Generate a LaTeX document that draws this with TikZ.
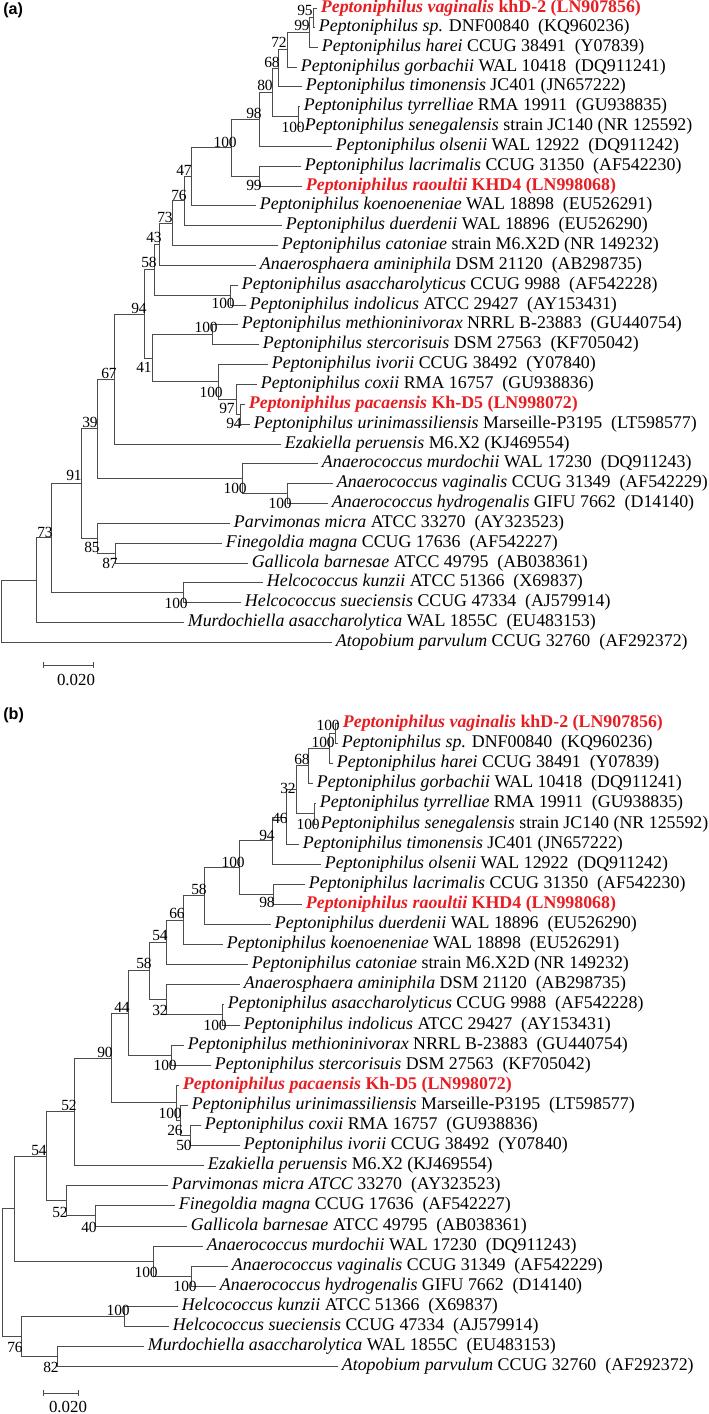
\documentclass[tikz,border=0pt]{standalone}
\usepackage{fontspec}
\usepackage{xcolor}
\setmainfont{Liberation Serif}
\newfontfamily\panelfont{Liberation Sans}
\definecolor{isolate}{RGB}{230,30,35}
\newcommand{\tx}[2]{\textit{#1} #2}
\newcommand{\txr}[2]{\textcolor{isolate}{\textbf{\textit{#1} #2}}}

\begin{document}
\begin{tikzpicture}[x=0.025cm, y=-0.025cm,
    branch/.style={draw=black!70, line width=0.55pt},
    taxon/.style={anchor=west, inner xsep=2.6pt, inner ysep=0pt, text height=8.8pt, text depth=2.7pt, font=\fontsize{12.7}{14}\selectfont},
    boot/.style={anchor=east, inner sep=0pt, font=\fontsize{11}{12}\selectfont},
    scalelab/.style={inner sep=0pt, font=\fontsize{12}{13}\selectfont},
    panel/.style={anchor=west, inner sep=0pt, font=\panelfont\bfseries\fontsize{11.5}{13}\selectfont}]
    \useasboundingbox (0,0) rectangle (709,1414);

    % ---------------- (a) ----------------
    \node[panel] (A-tag) at (3,10) {(a)};
    % leaves
    \node[taxon] (A-vag) at (317,8.5) {\txr{Peptoniphilus vaginalis}{khD-2 (LN907856)}};
    \node[taxon] (A-sp)  at (315,27)  {\tx{Peptoniphilus sp.}{DNF00840~~(KQ960236)}};
    \node[taxon] (A-har) at (318,47)  {\tx{Peptoniphilus harei}{CCUG 38491~~(Y07839)}};
    \node[taxon] (A-gor) at (297,67)  {\tx{Peptoniphilus gorbachii}{WAL 10418~~(DQ911241)}};
    \node[taxon] (A-tim) at (302,86)  {\tx{Peptoniphilus timonensis}{JC401 (JN657222)}};
    \node[taxon] (A-tyr) at (300,106) {\tx{Peptoniphilus tyrrelliae}{RMA 19911~~(GU938835)}};
    \node[taxon] (A-sen) at (301,126) {\tx{Peptoniphilus senegalensis}{strain JC140 (NR 125592)}};
    \node[taxon] (A-ols) at (332,146) {\tx{Peptoniphilus olsenii}{WAL 12922~~(DQ911242)}};
    \node[taxon] (A-lac) at (301,166) {\tx{Peptoniphilus lacrimalis}{CCUG 31350~~(AF542230)}};
    \node[taxon] (A-rao) at (302,186) {\txr{Peptoniphilus raoultii}{KHD4 (LN998068)}};
    \node[taxon] (A-koe) at (256,205) {\tx{Peptoniphilus koenoeneniae}{WAL 18898~~(EU526291)}};
    \node[taxon] (A-due) at (282,225) {\tx{Peptoniphilus duerdenii}{WAL 18896~~(EU526290)}};
    \node[taxon] (A-cat) at (278,245) {\tx{Peptoniphilus catoniae}{strain M6.X2D (NR 149232)}};
    \node[taxon] (A-ami) at (256,265) {\tx{Anaerosphaera aminiphila}{DSM 21120~~(AB298735)}};
    \node[taxon] (A-asa) at (238,285) {\tx{Peptoniphilus asaccharolyticus}{CCUG 9988~~(AF542228)}};
    \node[taxon] (A-ind) at (246,305) {\tx{Peptoniphilus indolicus}{ATCC 29427~~(AY153431)}};
    \node[taxon] (A-met) at (238,324) {\tx{Peptoniphilus methioninivorax}{NRRL B-23883~~(GU440754)}};
    \node[taxon] (A-ste) at (259,344) {\tx{Peptoniphilus stercorisuis}{DSM 27563~~(KF705042)}};
    \node[taxon] (A-ivo) at (268,364) {\tx{Peptoniphilus ivorii}{CCUG 38492~~(Y07840)}};
    \node[taxon] (A-cox) at (257,384) {\tx{Peptoniphilus coxii}{RMA 16757~~(GU938836)}};
    \node[taxon] (A-pac) at (245,404) {\txr{Peptoniphilus pacaensis}{Kh-D5 (LN998072)}};
    \node[taxon] (A-uri) at (250,424) {\tx{Peptoniphilus urinimassiliensis}{Marseille-P3195~~(LT598577)}};
    \node[taxon] (A-eza) at (281,444) {\tx{Ezakiella peruensis}{M6.X2 (KJ469554)}};
    \node[taxon] (A-mur) at (318,463) {\tx{Anaerococcus murdochii}{WAL 17230~~(DQ911243)}};
    \node[taxon] (A-avg) at (333,483) {\tx{Anaerococcus vaginalis}{CCUG 31349~~(AF542229)}};
    \node[taxon] (A-hyd) at (328,503) {\tx{Anaerococcus hydrogenalis}{GIFU 7662~~(D14140)}};
    \node[taxon] (A-par) at (230,523) {\tx{Parvimonas micra}{ATCC 33270~~(AY323523)}};
    \node[taxon] (A-fin) at (222,543) {\tx{Finegoldia magna}{CCUG 17636~~(AF542227)}};
    \node[taxon] (A-gal) at (248,563) {\tx{Gallicola barnesae}{ATCC 49795~~(AB038361)}};
    \node[taxon] (A-kun) at (263,582) {\tx{Helcococcus kunzii}{ATCC 51366~~(X69837)}};
    \node[taxon] (A-sue) at (241,602) {\tx{Helcococcus sueciensis}{CCUG 47334~~(AJ579914)}};
    \node[taxon] (A-mch) at (184,622) {\tx{Murdochiella asaccharolytica}{WAL 1855C~~(EU483153)}};
    \node[taxon] (A-ato) at (332,642) {\tx{Atopobium parvulum}{CCUG 32760~~(AF292372)}};
    % junctions
    \coordinate (A-n95)   at (313,17.5);
    \coordinate (A-n99)   at (309,32);
    \coordinate (A-n72)   at (287,49.5);
    \coordinate (A-n68)   at (278,68);
    \coordinate (A-n100t) at (298,116);
    \coordinate (A-n80)   at (272,92);
    \coordinate (A-n98)   at (259,119);
    \coordinate (A-n99r)  at (259,176);
    \coordinate (A-n100)  at (231,147.5);
    \coordinate (A-n47)   at (191,176);
    \coordinate (A-n76)   at (184,200.5);
    \coordinate (A-n73)   at (172,223);
    \coordinate (A-n43)   at (159,244);
    \coordinate (A-n100i) at (230,295);
    \coordinate (A-n58)   at (154,269.5);
    \coordinate (A-n100m) at (212,334);
    \coordinate (A-n94p)  at (240,414);
    \coordinate (A-n97)   at (236,399);
    \coordinate (A-n100v) at (218,381.5);
    \coordinate (A-n41)   at (152,358);
    \coordinate (A-n94)   at (144,314);
    \coordinate (A-n67)   at (114,379);
    \coordinate (A-n100av) at (287,493);
    \coordinate (A-n100an) at (242,478);
    \coordinate (A-n39)   at (97,428.5);
    \coordinate (A-n87)   at (115,553);
    \coordinate (A-n85)   at (97,538);
    \coordinate (A-n91)   at (81,483);
    \coordinate (A-n100k) at (183,592);
    \coordinate (A-n73r)  at (51,537.5);
    \coordinate (A-nm)    at (36,580);
    \coordinate (A-root)  at (1,611);
    % branches
    \draw[branch] (A-n95) |- (A-vag) (A-n95) |- (A-sp);
    \draw[branch] (A-n99) |- (A-n95) (A-n99) |- (A-har);
    \draw[branch] (A-n72) |- (A-n99) (A-n72) |- (A-gor);
    \draw[branch] (A-n68) |- (A-n72) (A-n68) |- (A-tim);
    \draw[branch] (A-n100t) |- (A-tyr) (A-n100t) |- (A-sen);
    \draw[branch] (A-n80) |- (A-n68) (A-n80) |- (A-n100t);
    \draw[branch] (A-n98) |- (A-n80) (A-n98) |- (A-ols);
    \draw[branch] (A-n99r) |- (A-lac) (A-n99r) |- (A-rao);
    \draw[branch] (A-n100) |- (A-n98) (A-n100) |- (A-n99r);
    \draw[branch] (A-n47) |- (A-n100) (A-n47) |- (A-koe);
    \draw[branch] (A-n76) |- (A-n47) (A-n76) |- (A-due);
    \draw[branch] (A-n73) |- (A-n76) (A-n73) |- (A-cat);
    \draw[branch] (A-n43) |- (A-n73) (A-n43) |- (A-ami);
    \draw[branch] (A-n100i) |- (A-asa) (A-n100i) |- (A-ind);
    \draw[branch] (A-n58) |- (A-n43) (A-n58) |- (A-n100i);
    \draw[branch] (A-n100m) |- (A-met) (A-n100m) |- (A-ste);
    \draw[branch] (A-n94p) |- (A-pac) (A-n94p) |- (A-uri);
    \draw[branch] (A-n97) |- (A-cox) (A-n97) |- (A-n94p);
    \draw[branch] (A-n100v) |- (A-ivo) (A-n100v) |- (A-n97);
    \draw[branch] (A-n41) |- (A-n100m) (A-n41) |- (A-n100v);
    \draw[branch] (A-n94) |- (A-n58) (A-n94) |- (A-n41);
    \draw[branch] (A-n67) |- (A-n94) (A-n67) |- (A-eza);
    \draw[branch] (A-n100av) |- (A-avg) (A-n100av) |- (A-hyd);
    \draw[branch] (A-n100an) |- (A-mur) (A-n100an) |- (A-n100av);
    \draw[branch] (A-n39) |- (A-n67) (A-n39) |- (A-n100an);
    \draw[branch] (A-n87) |- (A-fin) (A-n87) |- (A-gal);
    \draw[branch] (A-n85) |- (A-par) (A-n85) |- (A-n87);
    \draw[branch] (A-n91) |- (A-n39) (A-n91) |- (A-n85);
    \draw[branch] (A-n100k) |- (A-kun) (A-n100k) |- (A-sue);
    \draw[branch] (A-n73r) |- (A-n91) (A-n73r) |- (A-n100k);
    \draw[branch] (A-nm) |- (A-n73r) (A-nm) |- (A-mch);
    \draw[branch] (A-root) |- (A-nm) (A-root) |- (A-ato);
    % bootstrap values
    \node[boot] (A-b95)   at (313,10.5) {95};
    \node[boot] (A-b99)   at (310,25)  {99};
    \node[boot] (A-b72)   at (287,42)  {72};
    \node[boot] (A-b68)   at (280,62)  {68};
    \node[boot] (A-b80)   at (273,85)  {80};
    \node[boot] (A-b100t) at (305,127) {100};
    \node[boot] (A-b98)   at (262,113) {98};
    \node[boot] (A-b100)  at (237,142) {100};
    \node[boot] (A-b99r)  at (262,185) {99};
    \node[boot] (A-b47)   at (192,170) {47};
    \node[boot] (A-b76)   at (187,195) {76};
    \node[boot] (A-b73)   at (173,217) {73};
    \node[boot] (A-b43)   at (162,237) {43};
    \node[boot] (A-b58)   at (157,262) {58};
    \node[boot] (A-b100i) at (235,303) {100};
    \node[boot] (A-b94)   at (147,308) {94};
    \node[boot] (A-b100m) at (218,327) {100};
    \node[boot] (A-b41)   at (152,367) {41};
    \node[boot] (A-b100v) at (223,392) {100};
    \node[boot] (A-b97)   at (235,408) {97};
    \node[boot] (A-b94p)  at (242,423) {94};
    \node[boot] (A-b67)   at (117,373) {67};
    \node[boot] (A-b39)   at (98,422)  {39};
    \node[boot] (A-b91)   at (82,475)  {91};
    \node[boot] (A-b100an) at (247,488) {100};
    \node[boot] (A-b100av) at (292,503) {100};
    \node[boot] (A-b85)   at (100,547) {85};
    \node[boot] (A-b87)   at (118,563) {87};
    \node[boot] (A-b73r)  at (53,532)  {73};
    \node[boot] (A-b100k) at (188,603) {100};
    % scale bar
    \coordinate (A-s0) at (43,665);
    \coordinate (A-s1) at (93,665);
    \draw[branch] (A-s0) -- (A-s1) (A-s0) ++(0,-3) -- ++(0,6) (A-s1) ++(0,-3) -- ++(0,6);
    \node[scalelab] (A-slab) at (76,680) {0.020};

    % ---------------- (b) ----------------
    \node[panel] (B-tag) at (3,715) {(b)};
    % leaves
    \node[taxon] (B-vag) at (339,723)  {\txr{Peptoniphilus vaginalis}{khD-2 (LN907856)}};
    \node[taxon] (B-sp)  at (338,743)  {\tx{Peptoniphilus sp.}{DNF00840~~(KQ960236)}};
    \node[taxon] (B-har) at (333,763)  {\tx{Peptoniphilus harei}{CCUG 38491~~(Y07839)}};
    \node[taxon] (B-gor) at (313,783)  {\tx{Peptoniphilus gorbachii}{WAL 10418~~(DQ911241)}};
    \node[taxon] (B-tyr) at (316,803)  {\tx{Peptoniphilus tyrrelliae}{RMA 19911~~(GU938835)}};
    \node[taxon] (B-sen) at (317,824)  {\tx{Peptoniphilus senegalensis}{strain JC140 (NR 125592)}};
    \node[taxon] (B-tim) at (299,844)  {\tx{Peptoniphilus timonensis}{JC401 (JN657222)}};
    \node[taxon] (B-ols) at (321,864)  {\tx{Peptoniphilus olsenii}{WAL 12922~~(DQ911242)}};
    \node[taxon] (B-lac) at (305,884)  {\tx{Peptoniphilus lacrimalis}{CCUG 31350~~(AF542230)}};
    \node[taxon] (B-rao) at (302,904)  {\txr{Peptoniphilus raoultii}{KHD4 (LN998068)}};
    \node[taxon] (B-due) at (271,924)  {\tx{Peptoniphilus duerdenii}{WAL 18896~~(EU526290)}};
    \node[taxon] (B-koe) at (223,944)  {\tx{Peptoniphilus koenoeneniae}{WAL 18898~~(EU526291)}};
    \node[taxon] (B-cat) at (248,964)  {\tx{Peptoniphilus catoniae}{strain M6.X2D (NR 149232)}};
    \node[taxon] (B-ami) at (240,984)  {\tx{Anaerosphaera aminiphila}{DSM 21120~~(AB298735)}};
    \node[taxon] (B-asa) at (224,1004) {\tx{Peptoniphilus asaccharolyticus}{CCUG 9988~~(AF542228)}};
    \node[taxon] (B-ind) at (240,1025) {\tx{Peptoniphilus indolicus}{ATCC 29427~~(AY153431)}};
    \node[taxon] (B-met) at (184,1045) {\tx{Peptoniphilus methioninivorax}{NRRL B-23883~~(GU440754)}};
    \node[taxon] (B-ste) at (211,1065) {\tx{Peptoniphilus stercorisuis}{DSM 27563~~(KF705042)}};
    \node[taxon] (B-pac) at (179,1085) {\txr{Peptoniphilus pacaensis}{Kh-D5 (LN998072)}};
    \node[taxon] (B-uri) at (188,1105) {\tx{Peptoniphilus urinimassiliensis}{Marseille-P3195~~(LT598577)}};
    \node[taxon] (B-cox) at (201,1125) {\tx{Peptoniphilus coxii}{RMA 16757~~(GU938836)}};
    \node[taxon] (B-ivo) at (240,1145) {\tx{Peptoniphilus ivorii}{CCUG 38492~~(Y07840)}};
    \node[taxon] (B-eza) at (204,1165) {\tx{Ezakiella peruensis}{M6.X2 (KJ469554)}};
    \node[taxon] (B-par) at (168,1185) {\tx{Parvimonas micra ATCC}{33270~~(AY323523)}};
    \node[taxon] (B-fin) at (175,1205) {\tx{Finegoldia magna}{CCUG 17636~~(AF542227)}};
    \node[taxon] (B-gal) at (187,1226) {\tx{Gallicola barnesae}{ATCC 49795~~(AB038361)}};
    \node[taxon] (B-mur) at (203,1246) {\tx{Anaerococcus murdochii}{WAL 17230~~(DQ911243)}};
    \node[taxon] (B-avg) at (228,1266) {\tx{Anaerococcus vaginalis}{CCUG 31349~~(AF542229)}};
    \node[taxon] (B-hyd) at (216,1286) {\tx{Anaerococcus hydrogenalis}{GIFU 7662~~(D14140)}};
    \node[taxon] (B-kun) at (178,1306) {\tx{Helcococcus kunzii}{ATCC 51366~~(X69837)}};
    \node[taxon] (B-sue) at (169,1326) {\tx{Helcococcus sueciensis}{CCUG 47334~~(AJ579914)}};
    \node[taxon] (B-mch) at (144,1346) {\tx{Murdochiella asaccharolytica}{WAL 1855C~~(EU483153)}};
    \node[taxon] (B-ato) at (338,1366) {\tx{Atopobium parvulum}{CCUG 32760~~(AF292372)}};
    % junctions
    \coordinate (B-n100v) at (335,733);
    \coordinate (B-n100h) at (329,748);
    \coordinate (B-n68)   at (308,765.5);
    \coordinate (B-n100t) at (314,813.5);
    \coordinate (B-n32)   at (296,789.5);
    \coordinate (B-n46)   at (286,817);
    \coordinate (B-n94)   at (272,840.5);
    \coordinate (B-n98)   at (273,894);
    \coordinate (B-n100)  at (239,867);
    \coordinate (B-n58)   at (204,895.5);
    \coordinate (B-n66)   at (183,920);
    \coordinate (B-n54)   at (166,942);
    \coordinate (B-n100i) at (222,1014.5);
    \coordinate (B-n32a)  at (166,999);
    \coordinate (B-n58a)  at (149,970.5);
    \coordinate (B-n100m) at (171,1055);
    \coordinate (B-n44)   at (128,1013);
    \coordinate (B-n50)   at (190,1135);
    \coordinate (B-n26)   at (180,1120);
    \coordinate (B-n100p) at (176,1102.5);
    \coordinate (B-n90)   at (111,1058);
    \coordinate (B-n52)   at (74,1111.5);
    \coordinate (B-n40)   at (95,1215.5);
    \coordinate (B-n52p)  at (66,1200);
    \coordinate (B-n54r)  at (46,1156);
    \coordinate (B-n100av) at (191,1276);
    \coordinate (B-n100an) at (153,1261);
    \coordinate (B-nx)    at (14,1208.5);
    \coordinate (B-n100k) at (124,1316);
    \coordinate (B-n82)   at (57,1356);
    \coordinate (B-n76)   at (21,1336);
    \coordinate (B-root)  at (2,1272);
    % branches
    \draw[branch] (B-n100v) |- (B-vag) (B-n100v) |- (B-sp);
    \draw[branch] (B-n100h) |- (B-n100v) (B-n100h) |- (B-har);
    \draw[branch] (B-n68) |- (B-n100h) (B-n68) |- (B-gor);
    \draw[branch] (B-n100t) |- (B-tyr) (B-n100t) |- (B-sen);
    \draw[branch] (B-n32) |- (B-n68) (B-n32) |- (B-n100t);
    \draw[branch] (B-n46) |- (B-n32) (B-n46) |- (B-tim);
    \draw[branch] (B-n94) |- (B-n46) (B-n94) |- (B-ols);
    \draw[branch] (B-n98) |- (B-lac) (B-n98) |- (B-rao);
    \draw[branch] (B-n100) |- (B-n94) (B-n100) |- (B-n98);
    \draw[branch] (B-n58) |- (B-n100) (B-n58) |- (B-due);
    \draw[branch] (B-n66) |- (B-n58) (B-n66) |- (B-koe);
    \draw[branch] (B-n54) |- (B-n66) (B-n54) |- (B-cat);
    \draw[branch] (B-n100i) |- (B-asa) (B-n100i) |- (B-ind);
    \draw[branch] (B-n32a) |- (B-ami) (B-n32a) |- (B-n100i);
    \draw[branch] (B-n58a) |- (B-n54) (B-n58a) |- (B-n32a);
    \draw[branch] (B-n100m) |- (B-met) (B-n100m) |- (B-ste);
    \draw[branch] (B-n44) |- (B-n58a) (B-n44) |- (B-n100m);
    \draw[branch] (B-n50) |- (B-cox) (B-n50) |- (B-ivo);
    \draw[branch] (B-n26) |- (B-uri) (B-n26) |- (B-n50);
    \draw[branch] (B-n100p) |- (B-pac) (B-n100p) |- (B-n26);
    \draw[branch] (B-n90) |- (B-n44) (B-n90) |- (B-n100p);
    \draw[branch] (B-n52) |- (B-n90) (B-n52) |- (B-eza);
    \draw[branch] (B-n40) |- (B-fin) (B-n40) |- (B-gal);
    \draw[branch] (B-n52p) |- (B-par) (B-n52p) |- (B-n40);
    \draw[branch] (B-n54r) |- (B-n52) (B-n54r) |- (B-n52p);
    \draw[branch] (B-n100av) |- (B-avg) (B-n100av) |- (B-hyd);
    \draw[branch] (B-n100an) |- (B-mur) (B-n100an) |- (B-n100av);
    \draw[branch] (B-nx) |- (B-n54r) (B-nx) |- (B-n100an);
    \draw[branch] (B-n100k) |- (B-kun) (B-n100k) |- (B-sue);
    \draw[branch] (B-n82) |- (B-mch) (B-n82) |- (B-ato);
    \draw[branch] (B-n76) |- (B-n100k) (B-n76) |- (B-n82);
    \draw[branch] (B-root) |- (B-nx) (B-root) |- (B-n76);
    % bootstrap values
    \node[boot] (B-b100v) at (340,725)  {100};
    \node[boot] (B-b100h) at (335,742)  {100};
    \node[boot] (B-b68)   at (310,759)  {68};
    \node[boot] (B-b32)   at (296,788)  {32};
    \node[boot] (B-b100t) at (320,824)  {100};
    \node[boot] (B-b46)   at (288,818)  {46};
    \node[boot] (B-b94)   at (275,835)  {94};
    \node[boot] (B-b100)  at (245,862)  {100};
    \node[boot] (B-b98)   at (275,902)  {98};
    \node[boot] (B-b58)   at (207,889)  {58};
    \node[boot] (B-b66)   at (185,913)  {66};
    \node[boot] (B-b54)   at (168,935)  {54};
    \node[boot] (B-b58a)  at (152,963)  {58};
    \node[boot] (B-b32a)  at (168,1010) {32};
    \node[boot] (B-b100i) at (227,1025) {100};
    \node[boot] (B-b44)   at (130,1007) {44};
    \node[boot] (B-b100m) at (177,1065) {100};
    \node[boot] (B-b90)   at (113,1052) {90};
    \node[boot] (B-b100p) at (182,1113) {100};
    \node[boot] (B-b26)   at (183,1130) {26};
    \node[boot] (B-b50)   at (192,1145) {50};
    \node[boot] (B-b52)   at (77,1105)  {52};
    \node[boot] (B-b54r)  at (47,1150)  {54};
    \node[boot] (B-b52p)  at (68,1212)  {52};
    \node[boot] (B-b40)   at (97,1227)  {40};
    \node[boot] (B-b100an) at (158,1272) {100};
    \node[boot] (B-b100av) at (197,1286) {100};
    \node[boot] (B-b100k) at (130,1310) {100};
    \node[boot] (B-b76)   at (23,1347)  {76};
    \node[boot] (B-b82)   at (59,1367)  {82};
    % scale bar
    \coordinate (B-s0) at (43,1393);
    \coordinate (B-s1) at (78,1393);
    \draw[branch] (B-s0) -- (B-s1) (B-s0) ++(0,-3) -- ++(0,6) (B-s1) ++(0,-3) -- ++(0,6);
    \node[scalelab] (B-slab) at (68,1407) {0.020};
\end{tikzpicture}
\end{document}
